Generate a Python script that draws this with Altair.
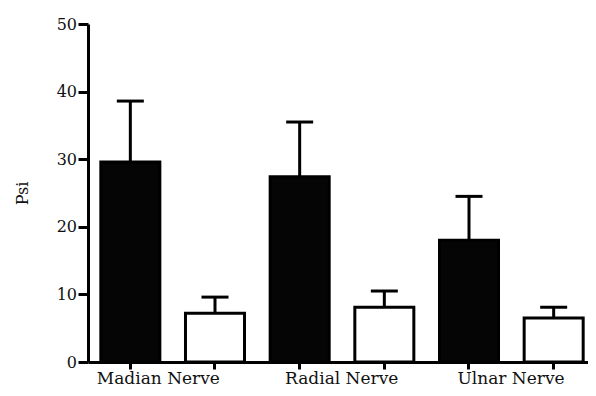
import altair as alt
import pandas as pd

nerves = ["Madian Nerve", "Radial Nerve", "Ulnar Nerve"]
groups = ["A", "B"]
mean_a = [29.6, 27.4, 18.0]
mean_b = [7.2, 8.1, 6.5]
upper_a = [38.6, 35.5, 24.5]
upper_b = [9.6, 10.5, 8.1]
y_ticks = [0, 10, 20, 30, 40, 50]

rows = []
for i, n in enumerate(nerves):
    rows.append({"key": n + "|A", "nerve": n, "grp": "A", "mean": mean_a[i], "upper": upper_a[i]})
    rows.append({"key": n + "|B", "nerve": n, "grp": "B", "mean": mean_b[i], "upper": upper_b[i]})
df = pd.DataFrame(rows)
keys = list(df["key"])

FONT = "DejaVu Serif"

x = alt.X(
    "key:N",
    sort=keys,
    scale=alt.Scale(paddingInner=0.303, paddingOuter=0.1515, range=[0, 508]),
    axis=alt.Axis(
        title=None,
        labelExpr="indexof(datum.value, '|A') >= 0 ? split(datum.value, '|')[0] : ''",
        labelOffset={"condition": {"test": "datum.value == 'Madian Nerve|A'", "value": 28}, "value": 42},
        labelAngle=0,
        labelOverlap=False,
        labelBound=False,
        labelPadding=1.5,
        labelFont=FONT,
        labelFontSize=17,
        labelColor="#111111",
        tickSize=7,
        tickWidth=3,
        tickColor="black",
        domainWidth=3,
        domainColor="black",
    ),
)
y_scale = alt.Scale(domain=[0, 50], nice=False)
y = alt.Y(
    "mean:Q",
    scale=y_scale,
    axis=alt.Axis(
        title="Psi",
        titleFont=FONT,
        titleFontSize=16,
        titleFontWeight="normal",
        titleColor="#111111",
        titlePadding=26,
        values=y_ticks,
        labelFont=FONT,
        labelFontSize=16,
        labelColor="#111111",
        labelPadding=1.5,
        tickSize=10,
        tickWidth=3,
        tickColor="black",
        domainWidth=3,
        domainColor="black",
        grid=False,
    ),
)

base = alt.Chart(df)

stems = base.mark_rule(strokeWidth=3, color="black").encode(
    x=x, y=alt.Y("mean:Q", scale=y_scale), y2="upper:Q"
)
bars = base.mark_bar(stroke="black", strokeWidth=3).encode(
    x=x,
    y=y,
    color=alt.Color("grp:N", scale=alt.Scale(domain=groups, range=["#050505", "white"]), legend=None),
)
caps = base.mark_tick(size=27, thickness=3, color="black", opacity=1).encode(
    x=x, y=alt.Y("upper:Q", scale=y_scale)
)

chart = (
    alt.layer(stems, bars, caps)
    .properties(
        width=500,
        height=338,
        autosize=alt.AutoSizeParams(type="none"),
        padding={"left": 80, "top": 16, "right": 0, "bottom": 26},
    )
    .configure_view(stroke=None)
)

chart.save("out.html", embed_options={"renderer": "svg", "actions": False})
